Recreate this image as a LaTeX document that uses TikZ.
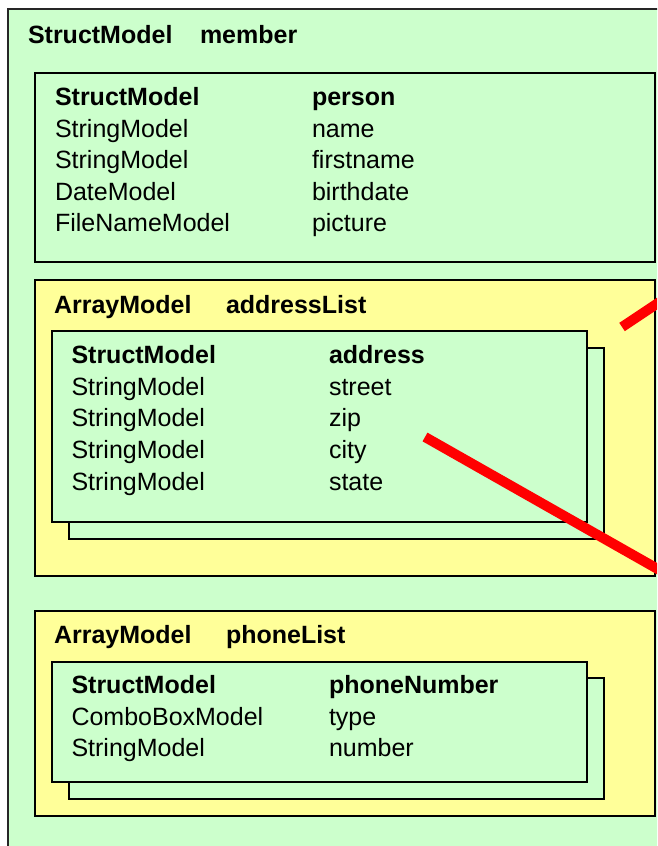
\documentclass[tikz,border=0pt]{standalone}
\usepackage{fontspec}
\setmainfont{Liberation Sans}
\definecolor{boxgreen}{HTML}{CCFFCC}
\definecolor{boxyellow}{HTML}{FFFF99}
\tikzset{
  greenbox/.style={draw=black, line width=1.8pt, fill=boxgreen},
  yellowbox/.style={draw=black, line width=1.8pt, fill=boxyellow},
  outerbox/.style={draw=black!85, line width=1.5pt, fill=boxgreen},
  txt/.style={anchor=base west, inner sep=0pt, outer sep=0pt, font=\fontsize{25}{30}\selectfont},
  btxt/.style={txt, font=\fontsize{25}{30}\selectfont\bfseries},
  strike/.style={draw=red, line width=10pt, line cap=butt}
}
\begin{document}
\begin{tikzpicture}[x=1pt, y=-1pt]
\useasboundingbox (0,0) rectangle (657,846);
\clip (0,0) rectangle (657,846);
\fill[white] (0,0) rectangle (657,846);
% outer member box
\draw[outerbox] (8,9) rectangle (720,900);
\node[btxt] (m1) at (28,43) {StructModel};
\node[btxt] (m2) at (200,43) {member};
% person
\draw[greenbox] (35,73) rectangle (655,262);
\node[btxt] (p1a) at (55,105.5) {StructModel};
\node[btxt] (p1b) at (312,105.5) {person};
\node[txt] (p2a) at (55,137) {StringModel};
\node[txt] (p2b) at (312,137) {name};
\node[txt] (p3a) at (55,168.5) {StringModel};
\node[txt] (p3b) at (312,168.5) {firstname};
\node[txt] (p4a) at (55,200) {DateModel};
\node[txt] (p4b) at (312,200) {birthdate};
\node[txt] (p5a) at (55,231.5) {FileNameModel};
\node[txt] (p5b) at (312,231.5) {picture};
% addressList
\draw[yellowbox] (35,280) rectangle (655,576);
\node[btxt] (a0a) at (54,313) {ArrayModel};
\node[btxt] (a0b) at (226,313) {addressList};
\draw[greenbox] (69,348) rectangle (604,539);
\draw[greenbox] (52,331) rectangle (587,522);
\node[btxt] (a1a) at (71.5,363) {StructModel};
\node[btxt] (a1b) at (329,363) {address};
\node[txt] (a2a) at (71.5,395) {StringModel};
\node[txt] (a2b) at (329,395) {street};
\node[txt] (a3a) at (71.5,426.5) {StringModel};
\node[txt] (a3b) at (329,426.5) {zip};
\node[txt] (a4a) at (71.5,458) {StringModel};
\node[txt] (a4b) at (329,458) {city};
\node[txt] (a5a) at (71.5,490) {StringModel};
\node[txt] (a5b) at (329,490) {state};
% phoneList
\draw[yellowbox] (35,611) rectangle (655,816);
\node[btxt] (f0a) at (54,643) {ArrayModel};
\node[btxt] (f0b) at (226,643) {phoneList};
\draw[greenbox] (69,678) rectangle (604,799);
\draw[greenbox] (52,662) rectangle (587,782);
\node[btxt] (f1a) at (71.5,693) {StructModel};
\node[btxt] (f1b) at (329,693) {phoneNumber};
\node[txt] (f2a) at (71.5,725) {ComboBoxModel};
\node[txt] (f2b) at (329,725) {type};
\node[txt] (f3a) at (71.5,756.5) {StringModel};
\node[txt] (f3b) at (329,756.5) {number};
% red strokes
\coordinate (r1s) at (622,327);
\coordinate (r1e) at (700,275);
\coordinate (r2s) at (425,437);
\coordinate (r2e) at (700,593);
\draw[strike] (r1s) -- (r1e);
\draw[strike] (r2s) -- (r2e);
\end{tikzpicture}
\end{document}
